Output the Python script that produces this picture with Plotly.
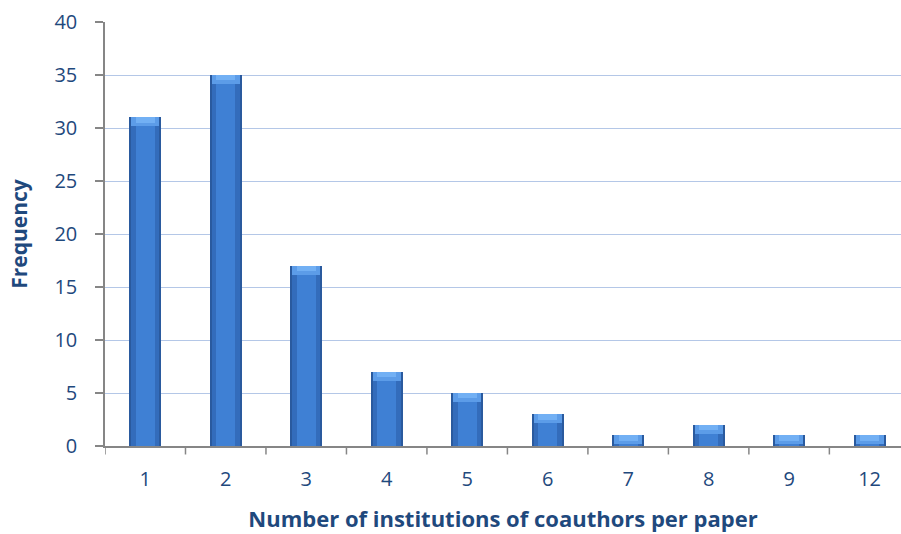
import plotly.graph_objects as go

# Distribution of institutions per paper
categories = ["1", "2", "3", "4", "5", "6", "7", "8", "9", "12"]
frequency = [31, 35, 17, 7, 5, 3, 1, 2, 1, 1]

positions = list(range(len(categories)))
label_color = "#1f497d"
axis_color = "#868686"
font_family = "Open Sans, sans-serif"
bevel = 0.85  # height of the lighter top band, in data units

fig = go.Figure()

# Layered bars give a shaded, bevelled column
layers = [
    (0.40, "#2a5a9e"),
    (0.35, "#336cbb"),
    (0.24, "#3f80d4"),
]
for w, c in layers:
    fig.add_trace(go.Bar(
        x=positions, y=frequency, width=w,
        marker=dict(color=c, line=dict(width=0)),
        hoverinfo="skip", showlegend=False,
    ))

# Light band at the top of each column
fig.add_trace(go.Bar(
    x=positions,
    y=[bevel] * len(frequency),
    base=[v - bevel for v in frequency],
    width=0.35,
    marker=dict(color="#5c9ce8", line=dict(width=0)),
    hoverinfo="skip", showlegend=False,
))
fig.add_trace(go.Bar(
    x=positions,
    y=[bevel * 0.6] * len(frequency),
    base=[v - bevel * 0.6 for v in frequency],
    width=0.24,
    marker=dict(color="#72b0f4", line=dict(width=0)),
    hoverinfo="skip", showlegend=False,
))

fig.update_layout(
    width=901, height=534,
    margin=dict(l=105, r=0, t=22, b=88),
    plot_bgcolor="white", paper_bgcolor="white",
    barmode="overlay", bargap=0,
    font=dict(family=font_family, color=label_color, size=18),
    xaxis=dict(
        tickmode="array", tickvals=positions, ticktext=categories,
        range=[-0.5, 9.39],
        showline=True, linecolor=axis_color, linewidth=1.5,
        ticks="", showgrid=False, zeroline=False,
        ticklabelstandoff=14,
        tickfont=dict(size=20, color=label_color),
        title=dict(text="<b>Number of institutions of coauthors per paper</b>",
                   font=dict(size=22, color=label_color), standoff=21),
    ),
    yaxis=dict(
        range=[0, 40], dtick=5,
        showline=True, linecolor=axis_color, linewidth=1.5,
        ticks="outside", ticklen=8, tickcolor=axis_color, tickwidth=1.5,
        showgrid=True, gridcolor="#b4c7e7", gridwidth=1.2,
        zeroline=False,
        ticklabelstandoff=14,
        tickfont=dict(size=20, color=label_color),
        title=dict(text="<b>Frequency</b>", font=dict(size=21, color=label_color), standoff=21),
    ),
)

# Category separator ticks along the x axis
for i in range(len(categories)):
    fig.add_shape(type="line", xref="x", yref="paper",
                  x0=i - 0.5, x1=i - 0.5, y0=0, y1=-0.02,
                  line=dict(color=axis_color, width=1.5))

fig.write_html("out.html")
